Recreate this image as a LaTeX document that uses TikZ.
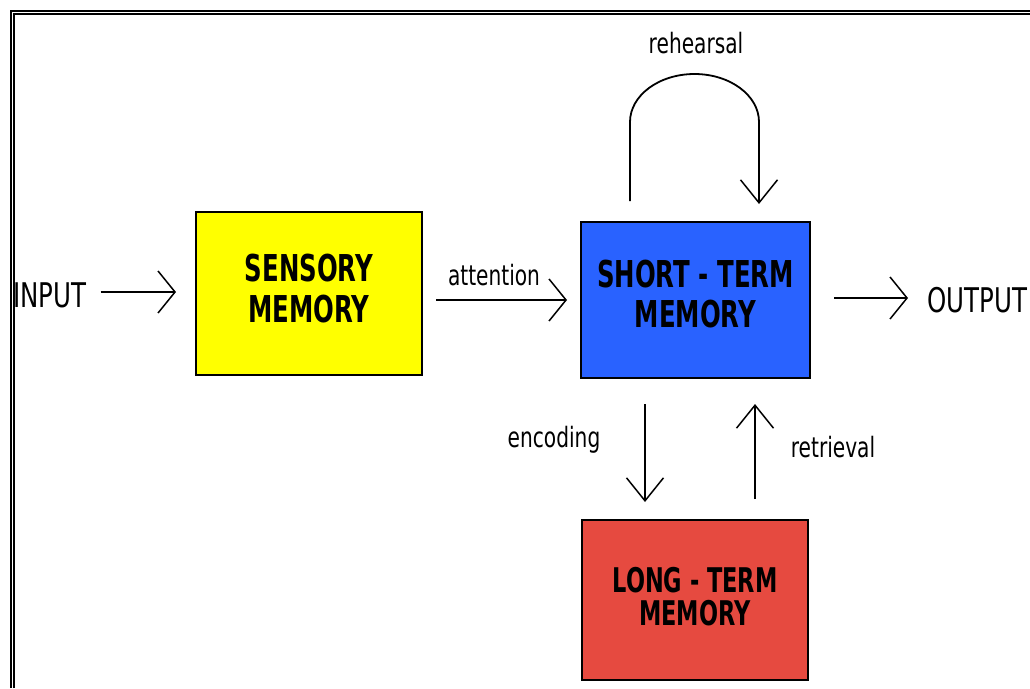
\documentclass[tikz,border=0pt]{standalone}
\usepackage{fontspec}
\usetikzlibrary{arrows.meta,calc}
\newfontfamily\boxfont[FakeStretch=0.66]{DejaVu Sans}
\newfontfamily\labelfont[FakeStretch=0.72]{DejaVu Sans}
\definecolor{sensyellow}{RGB}{255,255,0}
\definecolor{stmblue}{RGB}{41,98,255}
\definecolor{ltmred}{RGB}{230,74,64}
\tikzset{
  memorybox/.style={draw=black, line width=2pt, inner sep=0pt, align=center,
    font=\boxfont\bfseries},
  plainlabel/.style={inner sep=0pt, anchor=base, font=\labelfont\fontsize{28}{30}\selectfont},
  biglabel/.style={inner sep=0pt, anchor=base, font=\labelfont\fontsize{34}{36}\selectfont},
  flow/.style={line width=1.8pt, -{Straight Barb[length=17pt, width=42pt, line width=1.5pt]}},
  vflow/.style={line width=1.8pt, -{Straight Barb[length=23pt, width=37pt, line width=1.5pt]}},
}
\begin{document}
\begin{tikzpicture}[x=1pt, y=-1pt]
  \useasboundingbox (0,0) rectangle (1030,688);
  \fill[white] (0,0) rectangle (1030,688);

  % frame (top and left sides)
  \draw[line width=2pt] (11,688) -- (11,11) -- (1030,11);
  \draw[line width=2pt] (14,688) -- (14,14) -- (1030,14);

  % memory stores
  \node[memorybox, fill=sensyellow, minimum width=226pt, minimum height=163pt,
        font=\boxfont\bfseries\fontsize{37}{41}\selectfont]
        (sens) at (309,293.5) {SENSORY\\MEMORY\\[-30pt]};
  \node[memorybox, fill=stmblue, minimum width=229pt, minimum height=156pt,
        font=\boxfont\bfseries\fontsize{37}{40}\selectfont]
        (stm) at (695.5,300) {SHORT - TERM\\MEMORY\\[-28pt]};
  \node[memorybox, fill=ltmred, minimum width=226pt, minimum height=160pt,
        font=\boxfont\bfseries\fontsize{34}{33}\selectfont]
        (ltm) at (695,600) {LONG - TERM\\MEMORY\\[-25pt]};

  % input and output
  \node[biglabel, anchor=base west] (input) at (13,307) {INPUT};
  \node[biglabel, anchor=base west] (output) at (927,312) {OUTPUT};

  % labels
  \node[plainlabel] (attn) at (494,285) {attention};
  \node[plainlabel] (reh) at (696,53) {rehearsal};
  \node[plainlabel] (enc) at (554,447) {encoding};
  \node[plainlabel] (ret) at (833,457) {retrieval};

  % end points of the arrows
  \coordinate (inA) at (input.east |- 0,292);
  \coordinate (inB) at (sens.west |- 0,292);
  \coordinate (attA) at (sens.east |- stm.west);
  \coordinate (outA) at (stm.east |- 0,298);
  \coordinate (outB) at ($(output.west |- 0,298)+(-19,0)$);
  \coordinate (rehA) at ($(stm.north)+(-65.5,-20)$);
  \coordinate (rehB) at ($(stm.north)+(63.5,-17)$);
  \coordinate (encA) at ($(stm.south)+(-50.5,25)$);
  \coordinate (encB) at ($(ltm.north)+(-50,-17)$);
  \coordinate (retA) at ($(ltm.north)+(60,-20)$);
  \coordinate (retB) at ($(stm.south)+(59.5,25)$);

  % flows between stores
  \draw[flow, shorten <=14pt, shorten >=19pt] (inA) -- (inB);
  \draw[flow, shorten <=13pt, shorten >=13pt] (attA) -- (stm.west);
  \draw[flow, shorten <=23pt] (outA) -- (outB);

  % rehearsal loop
  \draw[vflow] (rehA) -- ++(0,-79)
    arc[start angle=180, end angle=360, x radius=64.5, y radius=48]
    -- (rehB);

  % encoding and retrieval
  \draw[vflow] (encA) -- (encB);
  \draw[vflow] (retA) -- (retB);
\end{tikzpicture}
\end{document}
